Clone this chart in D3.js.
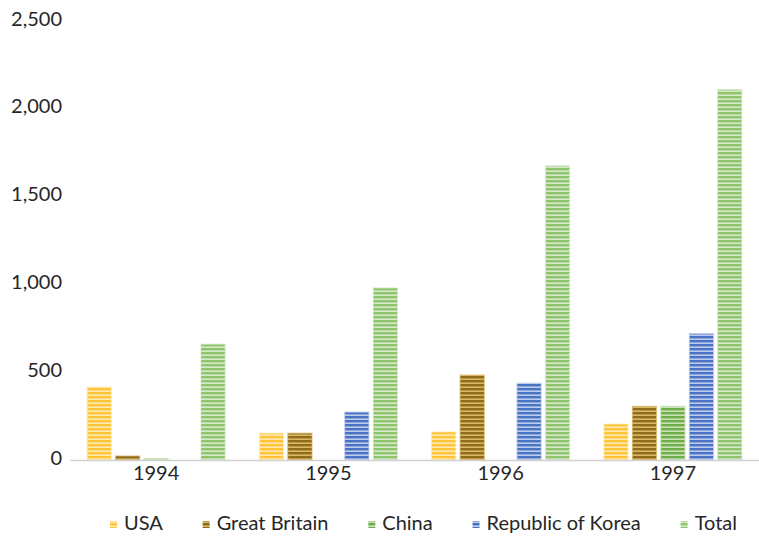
<!DOCTYPE html>
<html>
<head>
<meta charset="utf-8">
<script src="https://cdn.jsdelivr.net/npm/d3@7"></script>
<style>
  html, body { margin: 0; padding: 0; background: #fff; }
  svg text { font-family: Lato, "Open Sans", sans-serif; fill: #262626; }
</style>
</head>
<body>
<svg id="chart" width="759" height="536"></svg>
<script>
// Shipments per year by source, with the yearly total
const years = ["1994", "1995", "1996", "1997"];
const seriesNames = ["USA", "Great Britain", "China", "Republic of Korea", "Total"];
const usa    = [416, 153, 160, 205];
const gb     = [23, 153, 484, 306];
const china  = [8, 0, 0, 306];
const korea  = [0, 273, 438, 720];
const total  = [660, 980, 1675, 2110];
const yTicks = [0, 500, 1000, 1500, 2000, 2500];

const seriesValues = [usa, gb, china, korea, total];

// Striped fills: [line colour, gap colour]
const stripes = [
  ["#FFC43A", "#FFEAB0"],
  ["#8E6C1C", "#D8B767"],
  ["#6FAD47", "#C9E2B8"],
  ["#4A73C4", "#BDCCEB"],
  ["#8EC46C", "#D6EACA"]
];

const fontSize = "20px";
const svg = d3.select("#chart");
const margin = { left: 70, right: 759, top: 21, bottom: 460 };

const x0 = d3.scaleBand().domain(years).range([margin.left, margin.right]).padding(0);
const x1 = d3.scaleBand().domain(seriesNames)
  .range([15, x0.bandwidth() - 15]).paddingInner(0.15).paddingOuter(0.075);
const y = d3.scaleLinear().domain([0, 2500]).range([margin.bottom, margin.top]);

// Pattern definitions
const defs = svg.append("defs");
stripes.forEach((c, i) => {
  const p = defs.append("pattern")
    .attr("id", "stripe" + i)
    .attr("patternUnits", "userSpaceOnUse")
    .attr("width", 8).attr("height", 4)
    .attr("y", margin.bottom);
  p.append("rect").attr("width", 8).attr("height", 4).attr("fill", c[1]);
  p.append("rect").attr("width", 8).attr("height", 2.4).attr("fill", c[0]);
});

// Y axis labels (no axis line, no gridlines)
const yAxis = d3.axisLeft(y).tickValues(yTicks).tickSize(0).tickPadding(0)
  .tickFormat(d3.format(","));
const gy = svg.append("g").attr("transform", "translate(62,-3)").call(yAxis);
gy.select(".domain").remove();
gy.selectAll("text").style("font-size", fontSize).attr("dy", "0.35em");

// Bars
const rows = years.map((yr, i) => ({ year: yr, vals: seriesNames.map((s, j) => ({ s, j, v: seriesValues[j][i] })) }));
const groups = svg.append("g").selectAll("g").data(rows).join("g")
  .attr("transform", d => `translate(${x0(d.year)},0)`);
groups.selectAll("rect").data(d => d.vals.filter(e => e.v > 0)).join("rect")
  .attr("x", d => x1(d.s))
  .attr("width", x1.bandwidth())
  .attr("y", d => y(d.v))
  .attr("height", d => y(0) - y(d.v))
  .attr("fill", d => `url(#stripe${d.j})`)
  .attr("stroke", d => stripes[d.j][1])
  .attr("stroke-width", 0.8);

// X axis
const xAxis = d3.axisBottom(x0).tickSize(0).tickPadding(6);
const gx = svg.append("g").attr("transform", `translate(0,${y(0)})`).call(xAxis);
gx.select(".domain").attr("stroke", "#D0D0D0").attr("stroke-width", 1.6);
gx.selectAll("text").style("font-size", fontSize);

// Legend: swatch + label, spread evenly between the two ends
const legendStart = 110, legendEnd = 737, swatch = 7, swatchGap = 7;
const legend = svg.append("g");
const items = legend.selectAll("g").data(seriesNames).join("g");
items.append("rect").attr("x", 0).attr("y", -2).attr("width", swatch).attr("height", 7)
  .attr("fill", (d, i) => `url(#stripe${i})`);
const labels = items.append("text").attr("x", swatch + swatchGap).attr("y", 0).attr("dy", "0.35em")
  .style("font-size", fontSize).text(d => d);
const widths = labels.nodes().map(n => swatch + swatchGap + n.getComputedTextLength());
const gap = (legendEnd - legendStart - d3.sum(widths)) / (seriesNames.length - 1);
let cx = legendStart;
const offs = widths.map(w => { const o = cx; cx += w + gap; return o; });
items.attr("transform", (d, i) => `translate(${offs[i]},523)`);
</script>
</body>
</html>
